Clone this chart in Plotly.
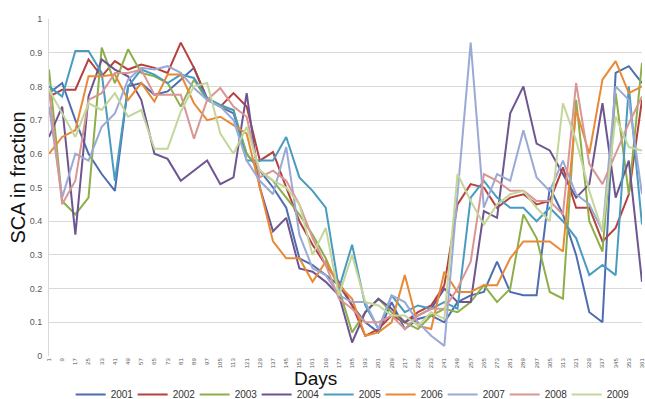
import plotly.graph_objects as go

# Day-of-year of each 8-day composite
days = [1, 9, 17, 25, 33, 41, 49, 57, 65, 73, 81, 89, 97, 105, 113, 121, 129, 137,
        145, 153, 161, 169, 177, 185, 193, 201, 209, 217, 225, 233, 241, 249, 257,
        265, 273, 281, 289, 297, 305, 313, 321, 329, 337, 345, 353, 361]

# Snow-covered area (fraction) per year
sca_2001 = [0.78, 0.81, 0.70, 0.60, 0.54, 0.49, 0.80, 0.81, 0.775, 0.785, 0.82, 0.855,
            0.765, 0.74, 0.72, 0.60, 0.55, 0.50, 0.44, 0.29, 0.27, 0.24, 0.21, 0.15,
            0.10, 0.07, 0.16, 0.08, 0.11, 0.12, 0.10, 0.16, 0.18, 0.19, 0.28, 0.19,
            0.18, 0.18, 0.50, 0.42, 0.30, 0.13, 0.10, 0.84, 0.86, 0.81]
sca_2002 = [0.77, 0.79, 0.79, 0.88, 0.83, 0.875, 0.85, 0.865, 0.855, 0.84, 0.93, 0.855,
            0.76, 0.74, 0.78, 0.74, 0.58, 0.605, 0.50, 0.40, 0.33, 0.27, 0.22, 0.15,
            0.06, 0.08, 0.12, 0.10, 0.13, 0.15, 0.21, 0.45, 0.51, 0.50, 0.44, 0.47,
            0.48, 0.45, 0.46, 0.56, 0.44, 0.44, 0.34, 0.38, 0.48, 0.76]
sca_2003 = [0.85, 0.46, 0.42, 0.47, 0.915, 0.81, 0.91, 0.84, 0.83, 0.81, 0.74, 0.82,
            0.76, 0.74, 0.73, 0.60, 0.55, 0.52, 0.47, 0.42, 0.36, 0.29, 0.20, 0.07,
            0.13, 0.17, 0.13, 0.10, 0.08, 0.12, 0.14, 0.13, 0.16, 0.21, 0.16, 0.20,
            0.42, 0.35, 0.19, 0.17, 0.76, 0.40, 0.31, 0.78, 0.48, 0.87]
sca_2004 = [0.65, 0.74, 0.36, 0.77, 0.88, 0.85, 0.83, 0.76, 0.60, 0.585, 0.52, 0.55,
            0.58, 0.51, 0.53, 0.78, 0.50, 0.37, 0.41, 0.26, 0.25, 0.22, 0.18, 0.04,
            0.13, 0.17, 0.14, 0.10, 0.12, 0.14, 0.20, 0.16, 0.16, 0.43, 0.41, 0.72,
            0.80, 0.63, 0.61, 0.54, 0.47, 0.51, 0.75, 0.47, 0.58, 0.22]
sca_2005 = [0.80, 0.77, 0.905, 0.905, 0.84, 0.52, 0.80, 0.85, 0.835, 0.81, 0.835, 0.825,
            0.765, 0.745, 0.73, 0.58, 0.58, 0.58, 0.65, 0.53, 0.49, 0.44, 0.20, 0.33,
            0.15, 0.08, 0.18, 0.13, 0.15, 0.14, 0.16, 0.14, 0.47, 0.52, 0.47, 0.44,
            0.44, 0.40, 0.44, 0.40, 0.35, 0.24, 0.27, 0.24, 0.80, 0.39]
sca_2006 = [0.60, 0.65, 0.67, 0.83, 0.83, 0.835, 0.76, 0.81, 0.755, 0.835, 0.835, 0.75,
            0.70, 0.71, 0.685, 0.66, 0.50, 0.34, 0.29, 0.29, 0.22, 0.28, 0.21, 0.17,
            0.06, 0.07, 0.10, 0.24, 0.09, 0.08, 0.25, 0.19, 0.19, 0.21, 0.21, 0.29,
            0.34, 0.34, 0.34, 0.31, 0.73, 0.60, 0.82, 0.875, 0.78, 0.80]
sca_2007 = [0.74, 0.47, 0.60, 0.58, 0.68, 0.72, 0.82, 0.855, 0.85, 0.86, 0.84, 0.795,
            0.76, 0.74, 0.70, 0.58, 0.52, 0.48, 0.62, 0.36, 0.26, 0.24, 0.18, 0.16,
            0.16, 0.08, 0.18, 0.16, 0.10, 0.06, 0.03, 0.48, 0.93, 0.44, 0.54, 0.52,
            0.67, 0.53, 0.49, 0.58, 0.48, 0.45, 0.37, 0.80, 0.76, 0.48]
sca_2008 = [0.79, 0.45, 0.52, 0.76, 0.78, 0.84, 0.84, 0.85, 0.775, 0.775, 0.775, 0.645,
            0.76, 0.795, 0.74, 0.71, 0.53, 0.55, 0.52, 0.45, 0.35, 0.27, 0.17, 0.14,
            0.10, 0.10, 0.12, 0.08, 0.12, 0.14, 0.14, 0.20, 0.28, 0.54, 0.52, 0.49,
            0.49, 0.46, 0.46, 0.42, 0.81, 0.57, 0.51, 0.60, 0.69, 0.77]
sca_2009 = [0.79, 0.72, 0.65, 0.75, 0.73, 0.78, 0.71, 0.73, 0.615, 0.615, 0.725, 0.80,
            0.81, 0.66, 0.60, 0.68, 0.55, 0.52, 0.50, 0.45, 0.30, 0.38, 0.18, 0.30,
            0.16, 0.15, 0.12, 0.12, 0.09, 0.13, 0.11, 0.54, 0.46, 0.39, 0.45, 0.48,
            0.49, 0.44, 0.40, 0.75, 0.64, 0.49, 0.37, 0.71, 0.62, 0.61]

years = ["2001", "2002", "2003", "2004", "2005", "2006", "2007", "2008", "2009"]
series = [sca_2001, sca_2002, sca_2003, sca_2004, sca_2005, sca_2006, sca_2007, sca_2008, sca_2009]
colors = ["#4E6DB0", "#B5403E", "#8DAF4A", "#6E5590", "#4A9BC0",
          "#E88A35", "#9BA9D6", "#D99694", "#C3D69B"]

day_labels = [str(d) for d in days]

fig = go.Figure()
for name, vals, col in zip(years, series, colors):
    fig.add_trace(go.Scatter(
        x=day_labels, y=vals, mode="lines", name=name,
        line=dict(color=col, width=2),
    ))

fig.update_layout(
    width=645, height=399,
    margin=dict(l=49, r=3, t=19, b=43, autoexpand=False),
    paper_bgcolor="white", plot_bgcolor="white",
    font=dict(family="Liberation Sans, Arial, sans-serif", color="#404040"),
    showlegend=True,
    legend=dict(
        orientation="h", x=0.507, xanchor="center", y=-0.114, yanchor="middle",
        font=dict(size=10, color="#333333"),
        entrywidth=17, entrywidthmode="pixels",
        itemwidth=30, bgcolor="rgba(0,0,0,0)",
        traceorder="normal",
    ),
    annotations=[
        dict(text="Days", x=0.45, y=-0.068, xref="paper", yref="paper",
             showarrow=False, font=dict(size=19, color="#111111"),
             xanchor="center", yanchor="middle"),
        dict(text="SCA in fraction", x=-0.052, y=0.53, xref="paper", yref="paper",
             showarrow=False, textangle=-90, font=dict(size=20, color="#111111"),
             xanchor="center", yanchor="middle"),
    ],
)

fig.update_xaxes(
    type="category", tickangle=-90, tickfont=dict(size=6, color="#595959"),
    showgrid=False, showline=False, ticks="", zeroline=False, automargin=False,
)
fig.update_yaxes(
    range=[0, 1], dtick=0.1, tick0=0, tickfont=dict(size=9, color="#595959"),
    showgrid=True, gridcolor="#D9D9D9", gridwidth=1,
    showline=True, linecolor="#D9D9D9", linewidth=1,
    zeroline=False, ticks="", ticklabelstandoff=4, automargin=False,
)

fig.write_html("out.html")
